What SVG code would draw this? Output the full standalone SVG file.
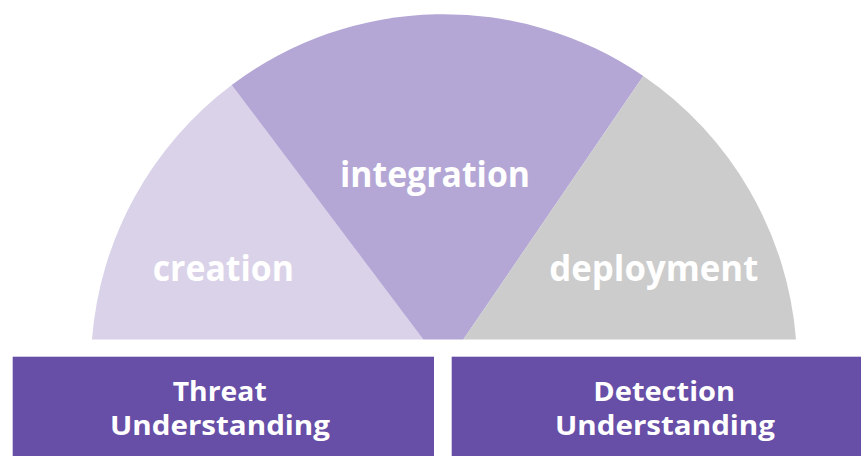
<svg xmlns="http://www.w3.org/2000/svg" width="861" height="456" viewBox="0 0 861 456">
<style>
.lbl{font-family:"Open Sans","Liberation Sans",sans-serif;font-weight:700;fill:#ffffff}
.seg{font-size:35px}
.box{font-size:26px}
.bx{fill:#674ea7}
</style>
<rect width="861" height="456" fill="#ffffff"/>
<g id="creation">
<path d="M 92,339.5 A 353 353 0 0 1 231.7,85 L 423.3,339.5 Z" fill="#d9d2e9"/>
<text class="lbl seg" x="152.7" y="281" textLength="141.3" lengthAdjust="spacingAndGlyphs">creation</text>
</g>
<g id="integration">
<path d="M 231.7,85 A 353 353 0 0 1 643.3,76 L 463.3,339.5 L 423.3,339.5 Z" fill="#b4a7d6"/>
<text class="lbl seg" x="340" y="187" textLength="190" lengthAdjust="spacingAndGlyphs">integration</text>
</g>
<g id="deployment">
<path d="M 643.3,76 A 353 353 0 0 1 796,339.5 L 463.3,339.5 Z" fill="#cccccc"/>
<text class="lbl seg" x="549.3" y="281" textLength="209" lengthAdjust="spacingAndGlyphs">deployment</text>
</g>
<g id="threat-understanding">
<rect class="bx" x="12.7" y="356.7" width="421.3" height="110"/>
<text class="lbl box" x="172.7" y="400.5" textLength="94" lengthAdjust="spacingAndGlyphs">Threat</text>
<text class="lbl box" x="110" y="434.5" textLength="220" lengthAdjust="spacingAndGlyphs">Understanding</text>
</g>
<g id="detection-understanding">
<rect class="bx" x="451.7" y="356.7" width="420" height="110"/>
<text class="lbl box" x="593.3" y="400.5" textLength="141.7" lengthAdjust="spacingAndGlyphs">Detection</text>
<text class="lbl box" x="555" y="434.5" textLength="220" lengthAdjust="spacingAndGlyphs">Understanding</text>
</g>
<g id="connectors"></g>
</svg>
